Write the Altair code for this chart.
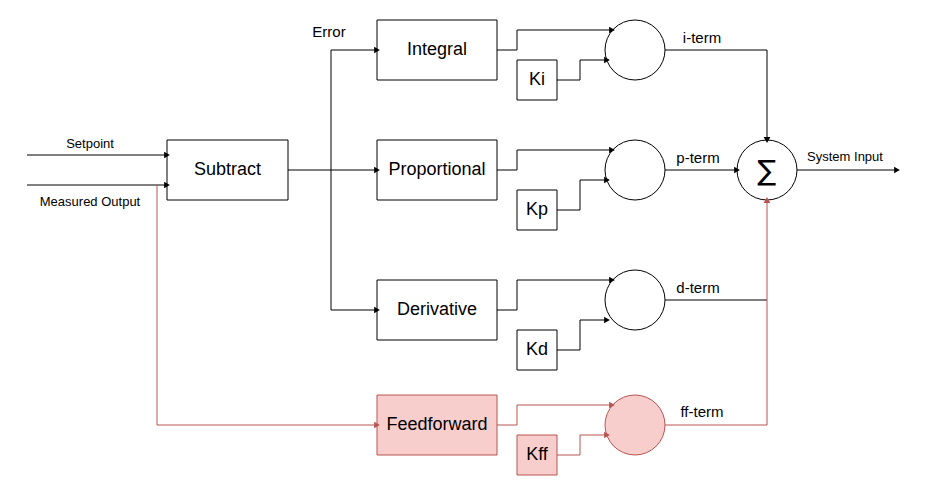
import pandas as pd
import altair as alt

BLACK = "#000000"
RED = "#b85450"
PINK = "#f8cecc"

# blocks: name, x0, y0, x1, y1, fill, stroke, font size
box_names = ["Subtract", "Integral", "Proportional", "Derivative", "Feedforward", "Ki", "Kp", "Kd", "Kff"]
box_x0 = [167, 377, 377, 377, 377, 517, 517, 517, 517]
box_y0 = [140, 20, 140, 280, 395, 60, 190, 330, 435]
box_x1 = [288, 497, 497, 497, 497, 557, 557, 557, 557]
box_y1 = [200, 80, 200, 340, 455, 100, 230, 370, 475]
box_fill = ["white"] * 4 + [PINK] + ["white"] * 3 + [PINK]
box_stroke = [BLACK] * 4 + [RED] + [BLACK] * 3 + [RED]

# circles (multipliers and the sum)
circ_x = [635, 635, 635, 635, 767]
circ_y = [50, 170, 300, 425, 170]
circ_fill = ["white", "white", "white", PINK, "white"]
circ_stroke = [BLACK, BLACK, BLACK, RED, BLACK]
R = 30

# wires as polylines
wires = [
    ([27, 167], [155, 155], BLACK),
    ([27, 167], [185, 185], BLACK),
    ([157, 157, 377], [185, 425, 425], RED),
    ([288, 377], [170, 170], BLACK),
    ([331, 331], [50, 310], BLACK),
    ([331, 377], [50, 50], BLACK),
    ([331, 377], [310, 310], BLACK),
    ([497, 517, 517, 612], [50, 50, 30, 30], BLACK),
    ([557, 580, 580, 607], [80, 80, 60, 60], BLACK),
    ([497, 517, 517, 612], [170, 170, 150, 150], BLACK),
    ([557, 580, 580, 607], [210, 210, 180, 180], BLACK),
    ([497, 517, 517, 612], [310, 310, 280, 280], BLACK),
    ([557, 580, 580, 607], [350, 350, 320, 320], BLACK),
    ([497, 517, 517, 612], [425, 425, 405, 405], RED),
    ([557, 580, 580, 607], [455, 455, 435, 435], RED),
    ([665, 767, 767], [50, 50, 140], BLACK),
    ([665, 737], [170, 170], BLACK),
    ([665, 767], [300, 300], BLACK),
    ([665, 767, 767], [425, 425, 200], RED),
    ([797, 897], [170, 170], BLACK),
]

# arrow heads: x, y, shape, colour
arr_x = [167, 167, 377, 377, 377, 377, 612, 607, 612, 607, 612, 607, 612, 607, 767, 737, 767, 897]
arr_y = [155, 185, 425, 170, 50, 310, 30, 60, 150, 180, 280, 320, 405, 435, 140, 170, 200, 170]
arr_shape = ["triangle-right"] * 14 + ["triangle-down", "triangle-right", "triangle-up", "triangle-right"]
arr_color = [BLACK, BLACK, RED, BLACK, BLACK, BLACK, BLACK, BLACK, BLACK, BLACK, BLACK, BLACK,
             RED, RED, BLACK, BLACK, RED, BLACK]

# free labels
lab_text = ["Setpoint", "Measured Output", "Error", "i-term", "p-term", "d-term", "ff-term", "System Input"]
lab_x = [90, 90, 329, 702, 698, 698, 702, 845]
lab_y = [144, 202, 32, 38, 158, 288, 412, 157]
lab_size = [13, 13, 15, 15, 15, 15, 15, 13]

seg_rows = []
for xs_, ys_, c in wires:
    for i in range(len(xs_) - 1):
        seg_rows.append(dict(x=xs_[i], y=ys_[i], x2=xs_[i + 1], y2=ys_[i + 1], c=c))
d = 0.7071 * R
for cx, cy, c in zip(circ_x[:4], circ_y[:4], circ_stroke[:4]):
    seg_rows.append(dict(x=cx - d, y=cy - d, x2=cx + d, y2=cy + d, c=c))
    seg_rows.append(dict(x=cx - d, y=cy + d, x2=cx + d, y2=cy - d, c=c))
segs = pd.DataFrame(seg_rows)

boxes = pd.DataFrame(dict(name=box_names, x0=box_x0, y0=box_y0, x1=box_x1, y1=box_y1,
                          fill=box_fill, stroke=box_stroke))
boxes["cx"] = (boxes.x0 + boxes.x1) / 2
boxes["cy"] = (boxes.y0 + boxes.y1) / 2
circles = pd.DataFrame(dict(x=circ_x, y=circ_y, fill=circ_fill, stroke=circ_stroke))
arrows = pd.DataFrame(dict(x=arr_x, y=arr_y, shape=arr_shape, c=arr_color))
labels = pd.DataFrame(dict(t=lab_text, x=lab_x, y=lab_y, s=lab_size))

xs = alt.Scale(domain=[8, 918], nice=False, zero=False)
ys = alt.Scale(domain=[8, 488], nice=False, zero=False, reverse=True)
X = lambda f: alt.X(f, scale=xs, axis=None)
Y = lambda f: alt.Y(f, scale=ys, axis=None)
FONT = "Liberation Sans"

lines = alt.Chart(segs).mark_rule(strokeWidth=1).encode(
    x=X("x:Q"), y=Y("y:Q"), x2="x2:Q", y2="y2:Q", color=alt.Color("c:N", scale=None))

rects = alt.Chart(boxes).mark_rect(strokeWidth=1).encode(
    x=X("x0:Q"), y=Y("y0:Q"), x2="x1:Q", y2="y1:Q",
    fill=alt.Fill("fill:N", scale=None), stroke=alt.Stroke("stroke:N", scale=None))

rect_text = alt.Chart(boxes).mark_text(font=FONT, fontSize=18, color="black").encode(
    x=X("cx:Q"), y=Y("cy:Q"), text="name:N")

circ = alt.Chart(circles).mark_point(shape="circle", size=3600, filled=False, strokeWidth=1, opacity=1).encode(
    x=X("x:Q"), y=Y("y:Q"), fill=alt.Fill("fill:N", scale=None),
    stroke=alt.Stroke("stroke:N", scale=None), fillOpacity=alt.value(1))

sigma = alt.Chart(pd.DataFrame(dict(x=[767], y=[172], t=["∑"]))).mark_text(
    font="DejaVu Sans", fontSize=28, color="black").encode(x=X("x:Q"), y=Y("y:Q"), text="t:N")

heads = alt.Chart(arrows).mark_point(filled=True, size=45, opacity=1).encode(
    x=X("x:Q"), y=Y("y:Q"), shape=alt.Shape("shape:N", scale=None),
    color=alt.Color("c:N", scale=None))

texts = alt.Chart(labels).mark_text(font=FONT, color="black").encode(
    x=X("x:Q"), y=Y("y:Q"), text="t:N", size=alt.Size("s:Q", scale=None))

chart = alt.layer(lines, rects, rect_text, circ, sigma, heads, texts).properties(
    width=910, height=480, padding=0
).configure_view(stroke=None)

chart.save("out.html", embed_options={"renderer": "svg", "actions": False})
